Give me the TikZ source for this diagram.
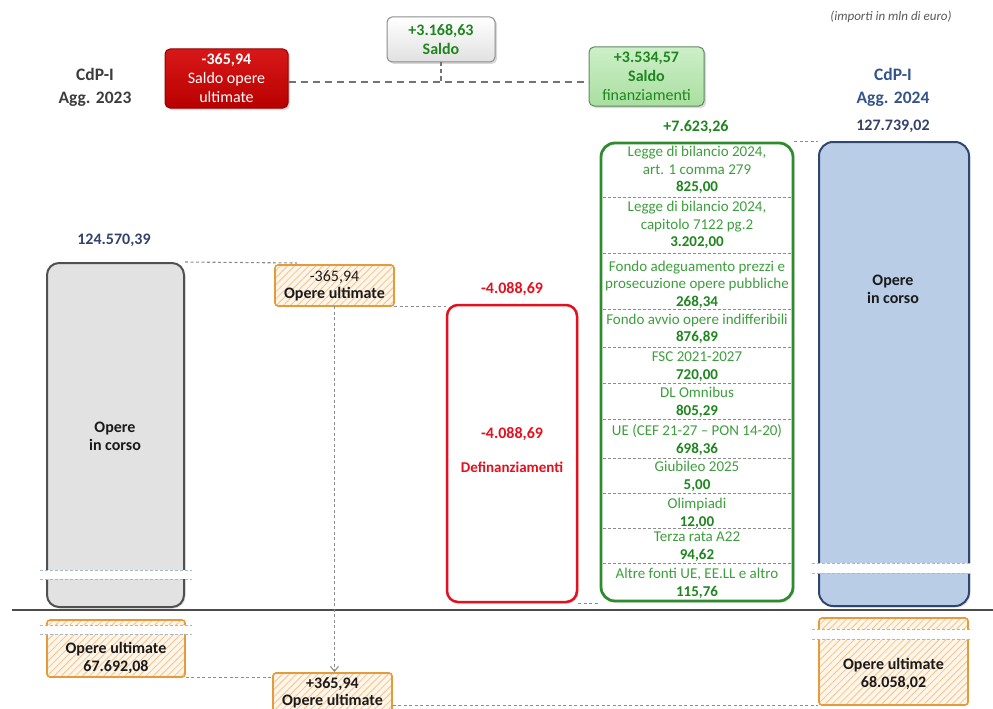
\documentclass[tikz,border=0pt]{standalone}
\usepackage{fontspec}
\setmainfont{Carlito}
\usetikzlibrary{patterns.meta,shadows,arrows.meta,calc}
\definecolor{dred}{HTML}{B80000}
\definecolor{dred2}{HTML}{D81818}
\definecolor{gtxt}{HTML}{3E9E3E}
\definecolor{gval}{HTML}{1F861F}
\definecolor{gborder}{HTML}{2E8B2E}
\definecolor{ored}{HTML}{E3101E}
\definecolor{obord}{HTML}{E59A3C}
\definecolor{ofill}{HTML}{FFF5E8}
\definecolor{ohatch}{HTML}{F3C48E}
\definecolor{bfill}{HTML}{B9CDE6}
\definecolor{bbord}{HTML}{2F4670}
\definecolor{hblue}{HTML}{34548A}
\definecolor{gfill}{HTML}{E2E2E2}
\definecolor{gbord}{HTML}{505050}
\definecolor{navy}{HTML}{34426A}
\definecolor{dgray}{HTML}{8C8C8C}
\definecolor{txt}{HTML}{1A1A1A}
\definecolor{lgreen}{HTML}{CDEFC8}
\definecolor{lgreen2}{HTML}{A9DFA0}
\definecolor{bandc}{HTML}{A9B8C8}
\begin{document}
\begin{tikzpicture}[x=1pt,y=-1pt,
  lbl/.style={font=\fontsize{16}{18}\selectfont\bfseries, align=center, inner sep=0pt},
  big/.style={font=\fontsize{17.5}{23}\selectfont\bfseries, align=center, inner sep=0pt},
  bar/.style={draw, inner sep=0pt, drop shadow={opacity=0.25, shadow xshift=1.5pt, shadow yshift=-1.5pt}},
  hatchbox/.style={draw=obord, line width=1.6pt, rounded corners=3pt, inner sep=0pt,
     preaction={fill=ofill}, pattern={Lines[angle=45,distance=5pt,line width=0.8pt]}, pattern color=ohatch,
     font=\fontsize{16}{17}\selectfont, align=center, text=txt},
  topbox/.style={draw, rounded corners=5pt, inner sep=0pt, line width=1pt, align=center,
     font=\fontsize{16}{19}\selectfont, drop shadow={opacity=0.3, shadow xshift=2pt, shadow yshift=-2pt}},
  conn/.style={draw=dgray, line width=1.1pt, dash pattern=on 3pt off 2.5pt},
  sepl/.style={draw=dgray, line width=0.9pt, dash pattern=on 3pt off 2pt},
  bandl/.style={draw=bandc, line width=1pt, dash pattern=on 3pt off 2pt},
  row/.style={font=\fontsize{15}{17.5}\selectfont, text=gtxt, align=center, inner sep=0pt}
]
\useasboundingbox (0,0) rectangle (993,709);
\clip (0,0) rectangle (993,709);

% header texts
\node[font=\fontsize{13}{15}\selectfont\itshape, text=black!65, inner sep=0pt] (unit) at (891,17) {(importi in mln di euro)};
\node[big, text=txt!85] (h23) at (95,87) {CdP-I\\Agg. 2023};
\node[big, text=hblue] (h24) at (893,87) {CdP-I\\Agg. 2024};

% top boxes
\node[topbox, draw=dred!80!black, top color=dred2, bottom color=dred, text=white, minimum width=123pt, minimum height=59pt] (redtop) at (226.5,78.5) {\textbf{-365,94}\\Saldo opere\\ultimate};
\node[topbox, draw=black!45, top color=white, bottom color=black!12, text=gval, minimum width=108pt, minimum height=45pt] (saldo) at (441,39.5) {\textbf{+3.168,63}\\\textbf{Saldo}};
\node[topbox, draw=gborder!60!black!70, top color=lgreen, bottom color=lgreen2, text=gval, minimum width=115pt, minimum height=59pt] (greentop) at (646.5,76.5) {\textbf{+3.534,57}\\\textbf{Saldo}\\finanziamenti};

\coordinate (sj) at (441,82);
\draw[draw=black!55, line width=1.4pt, dash pattern=on 7pt off 5pt] (redtop.east |- sj) -- (greentop.west |- sj);
\draw[draw=black!55, line width=1.2pt, dash pattern=on 4pt off 3pt] (saldo.south) -- (sj);

% value labels
\node[lbl, text=navy] (v1) at (114,240) {124.570,39};
\node[lbl, text=ored] (v2) at (512,289) {-4.088,69};
\node[lbl, text=gval] (v3) at (696,127) {+7.623,26};
\node[lbl, text=navy] (v4) at (893,126) {127.739,02};

% main bars
\node[bar, fill=gfill, draw=gbord, line width=2pt, rounded corners=12pt, minimum width=137pt, minimum height=344pt] (gray) at (115.5,435) {};
\node[lbl, text=txt] (grayt) at (115,436) {Opere\\in corso};

\node[bar, fill=white, draw=ored, line width=2.5pt, rounded corners=11pt, minimum width=130pt, minimum height=297pt] (defin) at (512,453.5) {};
\node[lbl, text=ored] (defa) at (512,434) {-4.088,69};
\node[font=\fontsize{15}{17}\selectfont\bfseries, text=ored, inner sep=0pt] (defb) at (512,467) {Definanziamenti};

\node[bar, fill=white, draw=gborder, line width=2.8pt, rounded corners=14pt, minimum width=192pt, minimum height=458pt] (fin) at (697,372) {};

\node[bar, fill=bfill, draw=bbord, line width=2pt, rounded corners=14pt, minimum width=150pt, minimum height=464pt] (blue) at (894,374) {};
\node[lbl, text=txt] (bluet) at (893,289) {Opere\\in corso};

% green list
\node[row] (r1) at (697,170) {Legge di bilancio 2024,\\art. 1 comma 279\\\textbf{\color{gval}825,00}};
\node[row] (r2) at (697,225) {Legge di bilancio 2024,\\capitolo 7122 pg.2\\\textbf{\color{gval}3.202,00}};
\node[row] (r3) at (697,284.5) {Fondo adeguamento prezzi e\\prosecuzione opere pubbliche\\\textbf{\color{gval}268,34}};
\node[row] (r4) at (697,329) {Fondo avvio opere indifferibili\\\textbf{\color{gval}876,89}};
\node[row] (r5) at (697,366.5) {FSC 2021-2027\\\textbf{\color{gval}720,00}};
\node[row] (r6) at (697,402.5) {DL Omnibus\\\textbf{\color{gval}805,29}};
\node[row] (r7) at (697,440) {UE (CEF 21-27 – PON 14-20)\\\textbf{\color{gval}698,36}};
\node[row] (r8) at (697,476.5) {Giubileo 2025\\\textbf{\color{gval}5,00}};
\node[row] (r9) at (697,513.5) {Olimpiadi\\\textbf{\color{gval}12,00}};
\node[row] (r10) at (697,546.5) {Terza rata A22\\\textbf{\color{gval}94,62}};
\node[row] (r11) at (697,583.5) {Altre fonti UE, EE.LL e altro\\\textbf{\color{gval}115,76}};
\foreach \yy in {197,253,309,347,383,419,458,493,528,563}
  \draw[sepl] (603,\yy) -- (791,\yy);

% separator line
\draw[draw=black!70, line width=1.5pt] (12,610) -- (993,610);

% orange boxes
\node[hatchbox, minimum width=119pt, minimum height=41pt] (ou1) at (334.5,285.5) {-365,94\\\textbf{Opere ultimate}};
\node[hatchbox, minimum width=119pt, minimum height=39pt] (ou2) at (332.5,692.5) {\textbf{+365,94}\\\textbf{Opere ultimate}};
\node[hatchbox, minimum width=138pt, minimum height=57pt] (ouL) at (116,648.5) {};
\node[lbl, text=txt] (ouLt) at (116,658) {Opere ultimate\\67.692,08};
\node[hatchbox, minimum width=149pt, minimum height=87pt] (ouR) at (893.5,661.5) {};
\node[lbl, text=txt] (ouRt) at (893.5,674) {Opere ultimate\\68.058,02};

% break bands
\fill[white] (40,570) rectangle (192,579);
\draw[bandl] (40,570) -- (192,570);
\draw[bandl] (40,579) -- (192,579);
\fill[white] (812,563) rectangle (972,573);
\draw[bandl] (812,563) -- (972,563);
\draw[bandl] (812,573) -- (972,573);
\fill[white] (40,625) rectangle (192,634);
\draw[bandl] (40,625) -- (192,625);
\draw[bandl] (40,634) -- (192,634);
\fill[white] (812,629) rectangle (972,639);
\draw[bandl] (812,629) -- (972,629);
\draw[bandl] (812,639) -- (972,639);

% connectors
\coordinate (g1) at (297,263);
\draw[conn] (gray.north east) -- (g1);
\draw[conn] (ou1.south east) -- (ou1.south east -| defin.west);
\draw[conn] (defin.south east) -- (defin.south east -| fin.west);
\draw[conn] (fin.north east) -- (fin.north east -| blue.west);
\draw[conn, -{Straight Barb[length=5pt,width=8pt]}] (ou1.south) -- (ou1.south |- ou2.north);
\draw[conn] (ouL.south east) -- (ou2.west |- ouL.south east);
\draw[conn] (ou2.east |- ouR.south) -- (ouR.south west);
\end{tikzpicture}
\end{document}
